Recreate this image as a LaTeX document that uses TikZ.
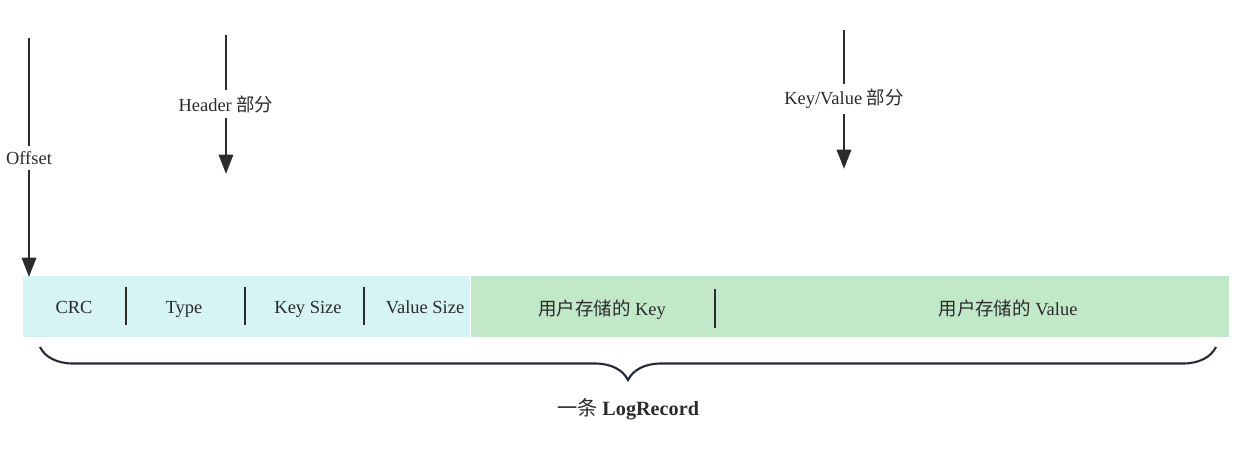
\documentclass[tikz,border=0pt]{standalone}
\usepackage{fontspec}
\setmainfont{Liberation Serif}
\newfontfamily\cjk{Noto Sans CJK SC}
\usetikzlibrary{arrows.meta,decorations.pathreplacing,positioning}
\definecolor{hdrcyan}{RGB}{213,244,243}
\definecolor{kvgreen}{RGB}{193,232,200}
\definecolor{inkgray}{RGB}{43,43,43}
\definecolor{bracenavy}{RGB}{33,43,54}

\begin{document}
\begin{tikzpicture}[x=0.02cm,y=-0.02cm,
        band/.style={rectangle,inner sep=0,minimum height=1.22cm,anchor=north west},
        field/.style={text=inkgray,font=\fontsize{10.5}{12}\selectfont,text height=1.6ex,text depth=.4ex},
        sep/.style={draw=inkgray,line width=1.7pt},
        pointer/.style={draw=inkgray,line width=1.7pt},
        tag/.style={fill=white,inner sep=3pt,text=inkgray,font=\fontsize{10.5}{12}\selectfont}]
        \useasboundingbox (0,0) rectangle (1242,454);

        % the two parts of one record
        \node[band,fill=hdrcyan,minimum width=8.94cm] (hdr) at (23,276) {};
        \node[band,fill=kvgreen,minimum width=15.16cm] (kv) at (471,276) {};

        % header fields
        \node[field] (crc) at (74,309) {CRC};
        \node[field] (type) at (184,309) {Type};
        \node[field] (ksz) at (308,309) {Key Size};
        \node[field] (vsz) at (425,309) {Value Size};
        \draw[sep] (126,287) -- (126,325);
        \draw[sep] (245,287) -- (245,325);
        \draw[sep] (364,287) -- (364,325);

        % key / value fields
        \node[field] (ukey) at (602,311) {{\cjk 用户存储的} Key};
        \node[field] (uval) at (1008,311) {{\cjk 用户存储的} Value};
        \draw[sep] (715,289) -- (715,328);

        % pointers from above
        \coordinate (offTop) at (29,38);
        \node[tag] (offLbl) at (29,158) {Offset};
        \coordinate (offTip) at (29,277);
        \draw[pointer] (offTop) -- (offLbl);
        \draw[pointer,-{Triangle[length=11pt,width=8pt]}] (offLbl) -- (offTip);

        \coordinate (hdrTop) at (226,35);
        \node[tag] (hdrLbl) at (226,104) {Header {\cjk 部分}};
        \coordinate (hdrTip) at (226,174);
        \draw[pointer] (hdrTop) -- (hdrLbl);
        \draw[pointer,-{Triangle[length=11pt,width=8pt]}] (hdrLbl) -- (hdrTip);

        \coordinate (kvTop) at (844,30);
        \node[tag] (kvLbl) at (844,99) {Key/Value {\cjk 部分}};
        \coordinate (kvTip) at (844,169);
        \draw[pointer] (kvTop) -- (kvLbl);
        \draw[pointer,-{Triangle[length=11pt,width=8pt]}] (kvLbl) -- (kvTip);

        % brace under the whole record
        \coordinate (brL) at (40,347);
        \coordinate (brR) at (1216,347);
        \draw[bracenavy,line width=1.2pt,decorate,decoration={brace,mirror,amplitude=0.66cm}] (brL) -- (brR);
        \node[field,font=\fontsize{11.5}{13}\selectfont] (recLbl) at (628,411) {{\cjk 一条} \textbf{LogRecord}};
    \end{tikzpicture}
\end{document}
